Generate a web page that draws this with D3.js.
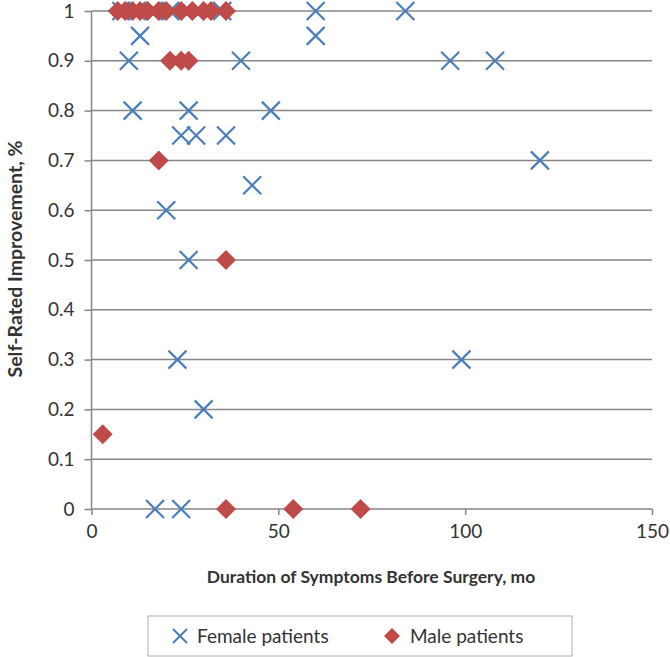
<!DOCTYPE html>
<html><head><meta charset="utf-8">
<script src="https://cdn.jsdelivr.net/npm/d3@7"></script>
<style>body{margin:0;background:#fff}svg{display:block}</style>
</head><body>
<svg id="c" width="670" height="657"></svg>
<script>
const femaleX = [8, 12, 17, 21, 35, 60, 84, 13, 60, 10, 40, 96, 108, 11, 26, 48, 24, 28, 36, 120, 43, 20, 26, 23, 99, 30, 17, 24];
const femaleY = [1, 1, 1, 1, 1, 1, 1, 0.95, 0.95, 0.9, 0.9, 0.9, 0.9, 0.8, 0.8, 0.8, 0.75, 0.75, 0.75, 0.7, 0.65, 0.6, 0.5, 0.3, 0.3, 0.2, 0, 0];
const maleX = [7, 9, 11, 13, 15, 18, 20, 24, 27, 30, 32, 36, 21, 24, 26, 18, 36, 3, 36, 54, 72];
const maleY = [1, 1, 1, 1, 1, 1, 1, 1, 1, 1, 1, 1, 0.9, 0.9, 0.9, 0.7, 0.5, 0.15, 0, 0, 0];
const xTicks = [0, 50, 100, 150];
const yTicks = [0, 0.1, 0.2, 0.3, 0.4, 0.5, 0.6, 0.7, 0.8, 0.9, 1];
const seriesNames = ["Female patients", "Male patients"];
const xTitle = "Duration of Symptoms Before Surgery, mo";
const yTitle = "Self-Rated Improvement, %";

const font = "Lato, 'Open Sans', sans-serif";
const txt = "#333";
const svg = d3.select("#c");
const x = d3.scaleLinear().domain([0, 150]).range([91.5, 652]);
const y = d3.scaleLinear().domain([0, 1]).range([509, 11]);
const grey = "#868686";
const blue = "#4a7ebb", red = "#be4b48";

// gridlines
svg.append("g").selectAll("line").data(yTicks.filter(d => d > 0)).join("line")
  .attr("x1", x(0)).attr("x2", x(150)).attr("y1", d => y(d)).attr("y2", d => y(d))
  .attr("stroke", grey).attr("stroke-width", 1.5);

// y axis
const ya = svg.append("g").attr("transform", `translate(${x(0)},0)`)
  .call(d3.axisLeft(y).tickValues(yTicks).tickFormat(d => d3.format("~g")(d)).tickSize(7).tickPadding(10));
// x axis
const xa = svg.append("g").attr("transform", `translate(0,${y(0)})`)
  .call(d3.axisBottom(x).tickValues(xTicks).tickSize(6).tickPadding(10));
[ya, xa].forEach(a => {
  a.select(".domain").attr("stroke", grey).attr("stroke-width", 1.5);
  a.selectAll(".tick line").attr("stroke", grey).attr("stroke-width", 1.5);
  a.selectAll(".tick text").attr("font-family", font).attr("font-size", 19).attr("fill", txt);
});
ya.select(".domain").attr("d", `M0,${y(1)}V${y(0)}`);
xa.select(".domain").attr("d", `M${x(0)},0H${x(150)}`);

// markers
const female = femaleX.map((v, i) => [v, femaleY[i]]);
const male = maleX.map((v, i) => [v, maleY[i]]);
const xPath = s => `M${-s},${-s}L${s},${s}M${-s},${s}L${s},${-s}`;
const diamond = s => `M0,${-s}L${s},0L0,${s}L${-s},0Z`;

svg.append("g").selectAll("path").data(female).join("path")
  .attr("transform", d => `translate(${x(d[0])},${y(d[1])})`)
  .attr("d", xPath(9)).attr("stroke", blue).attr("stroke-width", 2.2).attr("fill", "none");
svg.append("g").selectAll("path").data(male).join("path")
  .attr("transform", d => `translate(${x(d[0])},${y(d[1])})`)
  .attr("d", diamond(10)).attr("fill", red);

// titles
svg.append("text").attr("x", 371).attr("y", 583).attr("text-anchor", "middle")
  .attr("font-family", font).attr("font-size", 17.5).attr("font-weight", "bold").attr("fill", txt)
  .text(xTitle);
svg.append("text").attr("transform", `translate(22,259) rotate(-90)`).attr("text-anchor", "middle")
  .attr("font-family", font).attr("font-size", 19.5).attr("font-weight", "bold").attr("fill", txt)
  .text(yTitle);

// legend
const lg = svg.append("g");
lg.append("rect").attr("x", 148).attr("y", 616).attr("width", 424).attr("height", 40)
  .attr("fill", "#fff").attr("stroke", "#b0b0b0").attr("stroke-width", 1);
lg.append("path").attr("transform", "translate(180,636)").attr("d", xPath(7))
  .attr("stroke", blue).attr("stroke-width", 2).attr("fill", "none");
lg.append("text").attr("x", 197).attr("y", 643).attr("font-family", font).attr("font-size", 19).attr("fill", txt).text(seriesNames[0]);
lg.append("path").attr("transform", "translate(392,636)").attr("d", diamond(8)).attr("fill", red);
lg.append("text").attr("x", 410).attr("y", 643).attr("font-family", font).attr("font-size", 19).attr("fill", txt).text(seriesNames[1]);
</script>
</body></html>
